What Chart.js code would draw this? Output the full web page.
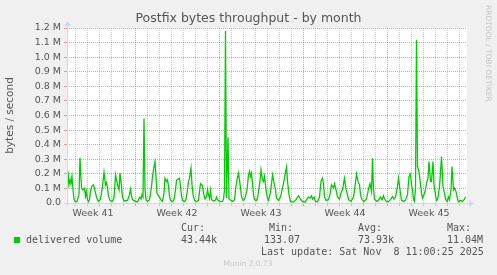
<!DOCTYPE html>
<html>
<head>
<meta charset="utf-8">
<title>Postfix bytes throughput - by month</title>
<script src="https://cdn.jsdelivr.net/npm/chart.js@4.4.1/dist/chart.umd.min.js"></script>
<style>
  html, body { margin: 0; padding: 0; background: #F0F0F0; }
  canvas { display: block; }
</style>
</head>
<body>
<canvas id="muninChart" width="497" height="275"></canvas>
<script>
// hours since start of graph (one pixel = 2 hours) and delivered bytes / second
const hours = [0, 2, 4, 6, 8, 10, 12, 14, 16, 20, 24, 26, 29, 31, 33, 35, 37, 39, 41, 43, 45, 47, 50, 53, 55, 57, 59, 61, 63, 67, 71, 74, 77, 79, 81, 83, 86, 90, 94, 97, 99, 101, 104, 106, 109, 111, 114, 121, 125, 127, 129, 131, 134, 137, 141, 143, 146, 148, 150, 152, 154, 156, 158, 161, 165, 169, 171, 174, 176, 178, 180, 183, 186, 189, 191, 194, 196, 199, 201, 203, 205, 207, 211, 214, 217, 219, 222, 225, 227, 229, 231, 235, 238, 241, 243, 245, 248, 250, 252, 255, 259, 263, 265, 267, 269, 271, 273, 276, 279, 281, 283, 285, 287, 289, 293, 297, 299, 301, 304, 308, 311, 313, 315, 317, 319, 322, 324, 328, 331, 335, 337, 340, 343, 345, 347, 349, 352, 355, 357, 360, 363, 365, 367, 369, 371, 373, 375, 379, 381, 384, 387, 388, 391, 393, 395, 398, 401, 403, 407, 411, 413, 415, 417, 419, 423, 427, 431, 435, 439, 441, 444, 447, 453, 458, 463, 467, 471, 476, 479, 483, 486, 489, 491, 494, 497, 501, 505, 508, 511, 513, 515, 518, 523, 526, 529, 533, 535, 538, 541, 545, 549, 551, 555, 558, 561, 563, 568, 573, 576, 579, 582, 585, 587, 590, 594, 599, 603, 606, 609, 611, 613, 615, 619, 623, 627, 630, 633, 635, 639, 643, 647, 651, 654, 657, 661, 663, 666, 669, 673, 677, 681, 684, 687, 689, 691, 693, 695, 697, 699, 701, 704, 706, 709, 711, 714, 717, 719, 722, 724, 727, 729, 732, 734, 737, 739, 742, 745, 747, 749, 752, 755, 757, 760, 763, 765, 768, 770, 773, 775, 778, 781, 783, 787, 791, 795, 797];
const bytesPerSec = [22000, 216000, 125000, 160000, 132000, 182000, 91000, 27000, 11000, 9000, 60000, 310000, 105000, 91000, 95000, 100000, 45000, 80000, 23000, 9000, 23000, 80000, 118000, 125000, 102000, 68000, 41000, 23000, 11000, 27000, 114000, 211000, 125000, 141000, 102000, 45000, 18000, 9000, 34000, 193000, 159000, 125000, 91000, 205000, 114000, 41000, 14000, 18000, 57000, 95000, 50000, 23000, 16000, 11000, 7000, 23000, 41000, 27000, 57000, 41000, 580000, 91000, 23000, 11000, 23000, 114000, 182000, 250000, 284000, 182000, 68000, 50000, 34000, 16000, 11000, 68000, 170000, 148000, 159000, 114000, 45000, 18000, 9000, 23000, 91000, 155000, 164000, 170000, 114000, 50000, 18000, 9000, 23000, 91000, 148000, 170000, 239000, 125000, 57000, 18000, 9000, 18000, 80000, 132000, 125000, 118000, 68000, 27000, 41000, 91000, 57000, 32000, 86000, 23000, 14000, 20000, 41000, 23000, 14000, 9000, 11000, 27000, 91000, 1180000, 35000, 450000, 30000, 18000, 11000, 23000, 91000, 159000, 205000, 159000, 102000, 45000, 18000, 23000, 45000, 91000, 193000, 216000, 182000, 205000, 136000, 57000, 23000, 18000, 34000, 102000, 182000, 227000, 159000, 148000, 182000, 91000, 34000, 18000, 73000, 193000, 159000, 125000, 91000, 34000, 18000, 41000, 102000, 170000, 245000, 148000, 57000, 9000, 7000, 23000, 50000, 27000, 9000, 5000, 23000, 41000, 34000, 50000, 27000, 41000, 11000, 9000, 41000, 148000, 170000, 132000, 41000, 18000, 23000, 57000, 125000, 102000, 132000, 91000, 41000, 27000, 80000, 91000, 170000, 95000, 57000, 23000, 11000, 41000, 114000, 198000, 148000, 125000, 57000, 23000, 9000, 27000, 95000, 132000, 80000, 307000, 91000, 27000, 11000, 18000, 41000, 23000, 50000, 27000, 9000, 9000, 23000, 45000, 27000, 41000, 118000, 170000, 91000, 18000, 11000, 18000, 57000, 182000, 198000, 125000, 91000, 23000, 11000, 102000, 1120000, 250000, 216000, 159000, 68000, 34000, 57000, 91000, 136000, 170000, 284000, 148000, 148000, 284000, 125000, 57000, 18000, 34000, 114000, 205000, 318000, 114000, 68000, 27000, 11000, 41000, 23000, 91000, 250000, 91000, 102000, 80000, 27000, 9000, 18000, 11000, 27000, 43000];

// x axis: day grid lines, week starts (red) and week label positions, all in hours
const dayLines = [16, 40, 64, 88, 112, 136, 160, 184, 208, 232, 256, 280, 304, 328, 352, 376, 400, 424, 448, 472, 496, 520, 544, 568, 592, 616, 640, 664, 688, 712, 736, 760, 784];
const weekStarts = [136, 304, 472, 640];
const weekCenters = [52, 220, 388, 556, 724];
const weekLabels = ['Week 41', 'Week 42', 'Week 43', 'Week 44', 'Week 45'];

// legend
const seriesName = 'delivered volume';
const statLabels = ['Cur:', 'Min:', 'Avg:', 'Max:'];
const statValues = ['43.44k', '133.07', '73.93k', '11.04M'];
const lastUpdate = 'Last update: Sat Nov  8 11:00:25 2025';

const TEXT = '#555555';
const AXIS = '#CFD6F8';
const GREEN = '#00CC00';
const MGRID = 'rgba(224,79,79,0.55)';
const GRID = 'rgba(128,128,128,0.4)';

// white canvas behind the plot
const plotBackground = {
  id: 'plotBackground',
  beforeDraw(chart) {
    const a = chart.chartArea;
    chart.ctx.save();
    chart.ctx.fillStyle = '#FFFFFF';
    chart.ctx.fillRect(a.left, a.top, a.right - a.left, a.bottom - a.top);
    chart.ctx.restore();
  }
};

// titles, axis arrows, legend and watermark like munin/rrdtool draws them
const muninDecor = {
  id: 'muninDecor',
  afterDraw(chart) {
    const c = chart.ctx;
    const a = chart.chartArea;
    c.save();

    // axis lines with arrows
    c.strokeStyle = AXIS;
    c.fillStyle = AXIS;
    c.lineWidth = 1;
    c.beginPath();
    c.moveTo(a.left - 3, a.bottom + 0.5);
    c.lineTo(a.right + 3, a.bottom + 0.5);
    c.moveTo(a.left + 0.5, a.bottom + 3);
    c.lineTo(a.left + 0.5, a.top - 3);
    c.stroke();
    c.beginPath();
    c.moveTo(a.right + 7, a.bottom + 0.5);
    c.lineTo(a.right + 2, a.bottom - 3);
    c.lineTo(a.right + 2, a.bottom + 4);
    c.closePath();
    c.fill();
    c.beginPath();
    c.moveTo(a.left + 0.5, a.top - 7);
    c.lineTo(a.left - 3, a.top - 2);
    c.lineTo(a.left + 4, a.top - 2);
    c.closePath();
    c.fill();

    // title
    c.fillStyle = TEXT;
    c.font = '12.5px "DejaVu Sans"';
    c.textAlign = 'center';
    c.textBaseline = 'middle';
    c.fillText('Postfix bytes throughput - by month', chart.width / 2, 19);

    // watermark
    c.save();
    c.translate(488, 5);
    c.rotate(Math.PI / 2);
    c.fillStyle = '#C4C4C4';
    c.font = '7.5px "DejaVu Sans"';
    c.textAlign = 'left';
    c.fillText('RRDTOOL / TOBI OETIKER', 0, 0);
    c.restore();

    // legend
    c.font = '10px "DejaVu Sans Mono"';
    c.textAlign = 'left';
    c.fillStyle = GREEN;
    c.fillRect(14, 237, 6, 6);
    c.fillStyle = TEXT;
    c.fillText(seriesName, 26, 240);
    const statX = [181, 269, 358, 447];
    const valueX = [181, 264, 358, 447];
    statLabels.forEach((s, i) => c.fillText(s, statX[i], 228));
    statValues.forEach((s, i) => c.fillText(s, valueX[i], 240));
    c.fillText(lastUpdate, 261, 252);

    c.fillStyle = '#C8C8C8';
    c.font = '7.5px "DejaVu Sans"';
    c.textAlign = 'center';
    c.fillText('Munin 2.0.73', 248, 264);
    c.restore();
  }
};

const ctx = document.getElementById('muninChart').getContext('2d');
const muninChart = new Chart(ctx, {
  type: 'line',
  data: {
    datasets: [{
      label: seriesName,
      data: hours.map((h, i) => ({ x: h, y: bytesPerSec[i] })),
      borderColor: GREEN,
      borderWidth: 1.3,
      pointRadius: 0,
      tension: 0,
      fill: false
    }]
  },
  options: {
    responsive: false,
    animation: false,
    devicePixelRatio: 1,
    layout: { padding: { top: 28, right: 30, left: 0, bottom: 0 } },
    plugins: {
      legend: { display: false },
      title: { display: false },
      tooltip: { enabled: false }
    },
    scales: {
      x: {
        type: 'linear',
        min: 0,
        max: 800,
        afterBuildTicks: (scale) => {
          scale.ticks = dayLines.concat(weekCenters).sort((p, q) => p - q).map(v => ({ value: v }));
        },
        afterFit: (scale) => { scale.height = 72; },
        border: { display: false, dash: [1, 1] },
        grid: {
          color: (g) => {
            const v = g.tick ? g.tick.value : null;
            if (weekCenters.includes(v)) return 'rgba(0,0,0,0)';
            if (weekStarts.includes(v)) return MGRID;
            return GRID;
          },
          tickLength: 3
        },
        ticks: {
          autoSkip: false,
          maxRotation: 0,
          padding: 2,
          color: TEXT,
          font: { family: 'DejaVu Sans', size: 9.5 },
          callback: (v) => {
            const i = weekCenters.indexOf(v);
            return i >= 0 ? weekLabels[i] : '';
          }
        }
      },
      y: {
        min: 0,
        max: 1200000,
        afterFit: (scale) => { scale.width = 67; },
        border: { display: false, dash: [1, 1] },
        grid: { color: MGRID, tickLength: 3 },
        ticks: {
          stepSize: 100000,
          padding: 3,
          color: TEXT,
          font: { family: 'DejaVu Sans', size: 9.5 },
          callback: (v) => v === 0 ? '0.0' : (v / 1000000).toFixed(1) + ' M'
        },
        title: {
          display: true,
          text: 'bytes / second',
          color: TEXT,
          font: { family: 'DejaVu Sans', size: 10.5 },
          padding: { top: 4, bottom: 0 }
        }
      }
    }
  },
  plugins: [plotBackground, muninDecor]
});
</script>
</body>
</html>
